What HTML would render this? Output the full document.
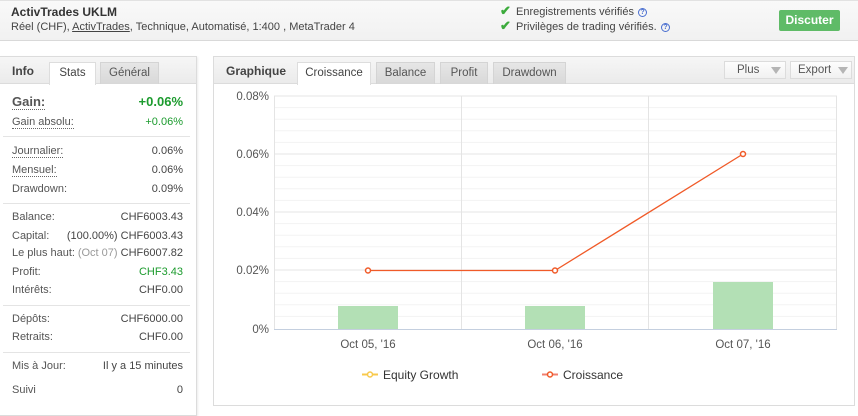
<!DOCTYPE html>
<html><head><meta charset="utf-8">
<style>
*{margin:0;padding:0;box-sizing:border-box}
body{width:858px;height:406px;overflow:hidden;background:#fff;font-family:"Liberation Sans",Arial,sans-serif;color:#444;position:relative}
.abs{position:absolute;white-space:nowrap}
#hdr{position:absolute;left:0;top:0;width:858px;height:41px;background:linear-gradient(#f9f9f9,#f1f1f1);border-top:1px solid #e2e2e2;border-bottom:1px solid #d9d9d9}
.t{font-size:11px;line-height:14px}
.lbl{position:absolute;left:12px;font-size:11px;color:#555;line-height:14px;white-space:nowrap}
.val{position:absolute;right:675px;font-size:11px;color:#444;line-height:14px;text-align:right;white-space:nowrap}
.dot{border-bottom:1px dotted #666}
.sep{position:absolute;left:3px;width:187px;height:1px;background:#e4e4e4}
.tabbar{position:absolute;height:27px;background:linear-gradient(#f6f6f6,#ebebeb);border-bottom:1px solid #dcdcdc}
.tab{position:absolute;height:22px;font-size:11.5px;line-height:21px;text-align:center;color:#555;border:1px solid #d4d4d4;border-bottom:none;background:linear-gradient(#e6e6e6,#d8d8d8)}
.tab.act{background:#fff;border-color:#ddd;height:23px;color:#444}
.btn{position:absolute;height:18px;border:1px solid #dcdcdc;background:linear-gradient(#fdfdfd,#f1f1f1);font-size:11.5px;line-height:16px;color:#555}
.tri{position:absolute;width:0;height:0;border-left:5px solid transparent;border-right:5px solid transparent;border-top:7px solid #b5b5b5;top:5px}
.q{position:absolute;width:9px;height:9px;border:1px solid #4a6fd0;border-radius:50%;font-size:7px;line-height:7px;text-align:center;color:#4a6fd0;font-weight:bold}
</style></head><body>
<div id="hdr"></div>
<div class="abs" style="left:11px;top:5px;font-size:12px;font-weight:bold;color:#333;line-height:15px">ActivTrades UKLM</div>
<div class="abs t" style="left:11px;top:20px;color:#444">Réel (CHF), <span style="text-decoration:underline">ActivTrades</span>, Technique, Automatisé, 1:400 , MetaTrader 4</div>
<div class="abs" style="left:500px;top:4px;color:#3cab3c;font-size:13px;font-weight:bold;line-height:14px">✔</div>
<div class="abs" style="left:500px;top:19px;color:#3cab3c;font-size:13px;font-weight:bold;line-height:14px">✔</div>
<div class="abs t" style="left:516px;top:5px;color:#444">Enregistrements vérifiés</div>
<div class="abs t" style="left:516px;top:20px;color:#444">Privilèges de trading vérifiés.</div>
<div class="q" style="left:638px;top:8px">?</div>
<div class="q" style="left:661px;top:23px">?</div>
<div class="abs" style="left:779px;top:10px;width:61px;height:21px;background:#5fbb67;border-radius:2px;color:#fff;font-weight:bold;font-size:12px;line-height:21px;text-align:center">Discuter</div>

<!-- Left panel -->
<div class="abs" style="left:0;top:56px;width:197px;height:360px;border:1px solid #dcdcdc;border-left:none;box-shadow:1px 1px 2px rgba(0,0,0,0.08)"></div>
<div class="tabbar" style="left:0;top:57px;width:196px"></div>
<div class="abs" style="left:12px;top:64px;font-size:12px;font-weight:bold;color:#444;line-height:14px">Info</div>
<div class="tab act" style="left:49px;top:62px;width:47px">Stats</div>
<div class="tab" style="left:100px;top:62px;width:59px">Général</div>

<div class="lbl" style="top:95px;font-size:13px;font-weight:bold;color:#555"><span class="dot">Gain:</span></div>
<div class="val" style="top:95px;font-size:13px;font-weight:bold;color:#1c9b2e">+0.06%</div>
<div class="lbl" style="top:115px"><span class="dot">Gain absolu:</span></div>
<div class="val" style="top:115px;color:#1c9b2e">+0.06%</div>
<div class="sep" style="top:136px"></div>
<div class="lbl" style="top:144px"><span class="dot">Journalier:</span></div>
<div class="val" style="top:144px">0.06%</div>
<div class="lbl" style="top:163px"><span class="dot">Mensuel:</span></div>
<div class="val" style="top:163px">0.06%</div>
<div class="lbl" style="top:182px">Drawdown:</div>
<div class="val" style="top:182px">0.09%</div>
<div class="sep" style="top:203px"></div>
<div class="lbl" style="top:210px">Balance:</div>
<div class="val" style="top:210px">CHF6003.43</div>
<div class="lbl" style="top:229px">Capital:</div>
<div class="val" style="top:229px">(100.00%) CHF6003.43</div>
<div class="lbl" style="top:246px">Le plus haut:</div>
<div class="val" style="top:246px"><span style="color:#999">(Oct 07)</span> CHF6007.82</div>
<div class="lbl" style="top:265px">Profit:</div>
<div class="val" style="top:265px;color:#1c9b2e">CHF3.43</div>
<div class="lbl" style="top:283px">Intérêts:</div>
<div class="val" style="top:283px">CHF0.00</div>
<div class="sep" style="top:305px"></div>
<div class="lbl" style="top:312px">Dépôts:</div>
<div class="val" style="top:312px">CHF6000.00</div>
<div class="lbl" style="top:330px">Retraits:</div>
<div class="val" style="top:330px">CHF0.00</div>
<div class="sep" style="top:352px"></div>
<div class="lbl" style="top:359px">Mis à Jour:</div>
<div class="val" style="top:359px">Il y a 15 minutes</div>
<div class="lbl" style="top:383px">Suivi</div>
<div class="val" style="top:383px">0</div>

<!-- Right panel -->
<div class="abs" style="left:213px;top:56px;width:642px;height:350px;border:1px solid #dcdcdc"></div>
<div class="tabbar" style="left:214px;top:57px;width:640px"></div>
<div class="abs" style="left:226px;top:64px;font-size:12px;font-weight:bold;color:#444;line-height:14px">Graphique</div>
<div class="tab act" style="left:297px;top:62px;width:74px">Croissance</div>
<div class="tab" style="left:376px;top:62px;width:59px">Balance</div>
<div class="tab" style="left:440px;top:62px;width:48px">Profit</div>
<div class="tab" style="left:493px;top:62px;width:73px">Drawdown</div>
<div class="btn" style="left:724px;top:61px;width:62px"><span style="position:absolute;left:12px">Plus</span><div class="tri" style="left:46px"></div></div>
<div class="btn" style="left:790px;top:61px;width:62px"><span style="position:absolute;left:7px">Export</span><div class="tri" style="left:47px"></div></div>

<svg class="abs" style="left:0;top:0" width="858" height="406" xmlns="http://www.w3.org/2000/svg">
<g stroke="#f3f3f3" stroke-width="1">
<line x1="274" y1="107.6" x2="837" y2="107.6"/><line x1="274" y1="119.2" x2="837" y2="119.2"/><line x1="274" y1="130.8" x2="837" y2="130.8"/><line x1="274" y1="142.4" x2="837" y2="142.4"/>
<line x1="274" y1="165.6" x2="837" y2="165.6"/><line x1="274" y1="177.2" x2="837" y2="177.2"/><line x1="274" y1="188.8" x2="837" y2="188.8"/><line x1="274" y1="200.4" x2="837" y2="200.4"/>
<line x1="274" y1="223.6" x2="837" y2="223.6"/><line x1="274" y1="235.2" x2="837" y2="235.2"/><line x1="274" y1="246.8" x2="837" y2="246.8"/><line x1="274" y1="258.4" x2="837" y2="258.4"/>
<line x1="274" y1="281.6" x2="837" y2="281.6"/><line x1="274" y1="293.2" x2="837" y2="293.2"/><line x1="274" y1="304.8" x2="837" y2="304.8"/><line x1="274" y1="316.4" x2="837" y2="316.4"/>
</g>
<g stroke="#e4e4e4" stroke-width="1">
<line x1="274" y1="96" x2="837" y2="96"/><line x1="274" y1="154" x2="837" y2="154"/><line x1="274" y1="212" x2="837" y2="212"/><line x1="274" y1="270" x2="837" y2="270"/>
<line x1="274.5" y1="96" x2="274.5" y2="329"/><line x1="461.5" y1="96" x2="461.5" y2="329"/><line x1="648.5" y1="96" x2="648.5" y2="329"/><line x1="836.5" y1="96" x2="836.5" y2="329"/>
</g>
<rect x="338" y="306" width="60" height="23" fill="#b3e0b5"/>
<rect x="525" y="306" width="60" height="23" fill="#b3e0b5"/>
<rect x="713" y="282" width="60" height="47" fill="#b3e0b5"/>
<line x1="274" y1="329.5" x2="837" y2="329.5" stroke="#c4cfdf" stroke-width="1"/>
<polyline points="368,270.5 555,270.5 743,154" fill="none" stroke="#f05a28" stroke-width="1.3"/>
<g fill="#fff" stroke="#f05a28" stroke-width="1.5">
<circle cx="368" cy="270.5" r="2.5"/><circle cx="555" cy="270.5" r="2.5"/><circle cx="743" cy="154" r="2.5"/>
</g>
<g font-family="Liberation Sans, Arial, sans-serif" font-size="11.5" fill="#555" text-anchor="end">
<text x="269" y="100">0.08%</text><text x="269" y="158">0.06%</text><text x="269" y="216">0.04%</text><text x="269" y="274">0.02%</text><text x="269" y="333">0%</text>
</g>
<g font-family="Liberation Sans, Arial, sans-serif" font-size="11.5" fill="#555" text-anchor="middle">
<text x="368" y="348">Oct 05, '16</text><text x="555" y="348">Oct 06, '16</text><text x="743" y="348">Oct 07, '16</text>
</g>
<line x1="362" y1="374.5" x2="378" y2="374.5" stroke="#f8c94c" stroke-width="2"/>
<circle cx="370" cy="374.5" r="2.5" fill="#fff" stroke="#f8c94c" stroke-width="1.5"/>
<line x1="542" y1="374.5" x2="558" y2="374.5" stroke="#f08070" stroke-width="2"/>
<circle cx="550" cy="374.5" r="2.5" fill="#fff" stroke="#f05a28" stroke-width="1.5"/>
<g font-family="Liberation Sans, Arial, sans-serif" font-size="12" fill="#333">
<text x="383" y="379">Equity Growth</text><text x="563" y="379">Croissance</text>
</g>
</svg>
</body></html>
